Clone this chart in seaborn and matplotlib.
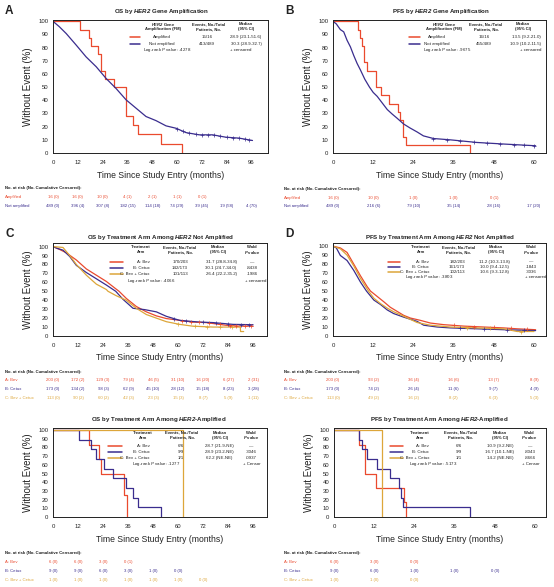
import numpy as np
import matplotlib
matplotlib.use("Agg")
import matplotlib.pyplot as plt
import matplotlib.transforms as mtrans
from matplotlib.lines import Line2D
import seaborn as sns

# ---------------------------------------------------------------- data
# Panel A: OS by HER2 gene amplification
A_amp_t = [0, 12.9, 17.4, 18.5, 22.0, 23.3, 25.1, 29.4, 35.4, 38.6, 41.0, 52.3, 62.4]
A_amp_s = [100, 93.75, 87.5, 81.25, 75.0, 62.5, 56.25, 50.0, 28.1, 21.1, 14.1, 7.0, 0]
A_not_t = [0, 3, 6.4, 11.3, 16, 20.9, 25.7, 30.5, 35.4, 40.2, 45, 49.8, 54.7, 59.5, 64.3, 70.7, 77.2, 83.6, 90, 96.5]
A_not_s = [100, 96, 90.7, 81.8, 73, 65.5, 56.6, 49, 40.3, 34, 27.7, 24.6, 20.6, 18.8, 15.5, 13.8, 13.8, 12, 11.3, 9.5]
A_not_cens = [60, 63, 66, 69, 72, 75, 78, 81, 84, 87, 90, 93, 95]

# Panel B: PFS by HER2 gene amplification
B_amp_t = [0, 7.5, 8.0, 8.8, 9.4, 10.2, 12.9, 14.4, 16.8, 19.4, 20.1, 21.0, 21.8, 40.9]
B_amp_s = [100, 93.75, 87.5, 81.25, 68.75, 62.5, 50, 43.75, 37.5, 31.25, 25, 12.5, 6.25, 0]
B_not_t = [0, 1, 2.2, 3.2, 4.2, 5.2, 6.2, 7.2, 8.2, 9.5, 10.9, 12, 13.2, 14.7, 16.2, 17.7, 19.1, 21.1, 23, 25.1, 27, 30, 35, 43, 51, 60.5]
B_not_s = [100, 98, 93.7, 92, 85.6, 80.6, 74, 68, 63, 56, 50, 46, 43, 38, 33, 29.5, 26.5, 22, 19, 16, 13, 11, 10, 8, 6.8, 5.5]
B_not_cens = [30, 34, 38, 42, 46, 50, 54, 57, 60]

# Panel C: OS by arm, HER2 not amplified
C_bev_t = [0, 3, 6.4, 11.2, 16, 20.8, 25.6, 30, 31.7, 35.2, 40, 44.8, 49.6, 54.4, 60.8, 67, 73.6, 83, 89.6, 96]
C_bev_s = [100, 97, 93, 85, 75, 68, 61, 53, 50, 42, 33, 27, 22.5, 19.5, 17.5, 15.6, 15, 12, 11, 11]
C_cet_t = [0, 2, 4.8, 8, 11.2, 16, 20.8, 25.6, 30.1, 33.6, 36, 38.4, 44, 49.6, 54.4, 60.8, 70, 76.8, 86.4, 96]
C_cet_s = [100, 98, 96, 89, 79, 71, 64, 57, 50, 41, 36, 31, 29.5, 27, 22, 17.5, 15.6, 15, 13, 12.6]
C_bc_t = [0, 4.8, 8, 11.2, 16, 20.8, 25.6, 26.4, 30.4, 35.2, 40, 44.8, 49.6, 54.4, 60.8, 67, 76.8, 86.4, 89.9, 90, 91.5]
C_bc_s = [100, 99, 90, 80, 68, 58, 52, 50, 45, 40, 31, 24, 20, 16, 13, 11, 10, 10, 10, 5, 5]
C_bev_cens = [62, 66, 70, 75, 80, 85, 88, 92, 95]
C_cet_cens = [58, 64, 72, 78, 84, 90, 94]
C_bc_cens = [60, 68, 74, 80, 86]

# Panel D: PFS by arm, HER2 not amplified
D_bev_t = [0, 2.2, 4.2, 6.2, 8.2, 10.2, 11.2, 13.2, 15.2, 17.1, 19.1, 21.1, 23.1, 26.1, 29.1, 33.1, 39.1, 45, 51, 55, 60.5]
D_bev_s = [100, 98, 93, 80, 67, 55, 50, 44, 38, 32, 27.5, 23, 20, 17.4, 14.4, 12.6, 11, 10, 9, 8, 7]
D_cet_t = [0, 1, 2.2, 4.2, 6.2, 8.2, 10, 12.2, 14.2, 16.2, 18.1, 21.1, 25.1, 27.1, 31.1, 35.1, 43, 51, 60.5]
D_cet_s = [100, 98, 89.6, 84, 73, 60, 50, 40, 35, 29, 25, 21, 16.3, 12, 10, 9, 8, 7, 6]
D_bc_t = [0, 2.2, 4.2, 6.2, 8.2, 10.6, 12.2, 14.2, 16.2, 18.1, 21.1, 25.1, 29.1, 35, 43, 51, 55, 60]
D_bc_s = [100, 97, 90, 78, 64, 50, 42, 36, 31, 27, 22, 15, 12, 10, 9, 8, 5, 5]
D_bev_cens = [36, 42, 48, 53, 58]
D_cet_cens = [38, 45, 52, 57]
D_bc_cens = [40, 47, 56]

# Panel E: OS by arm, HER2 amplified
E_bev_t = [0, 17.2, 21.9, 23.0, 34.2, 35.5]
E_bev_s = [100, 83.3, 66.7, 50, 25, 0]
E_cet_t = [0, 12.4, 18.3, 20.7, 24.6, 28.9, 35.0, 38.2, 40.5, 51.7]
E_cet_s = [100, 88.9, 77.8, 66.7, 55.6, 44.4, 33.3, 22.2, 11.1, 0]
E_bc_t = [0, 62.2]
E_bc_s = [100, 0]

# Panel F: PFS by arm, HER2 amplified
F_bev_t = [0, 7.6, 9.2, 12.5, 20.8, 21.6]
F_bev_s = [100, 83.3, 50, 33.3, 16.7, 0]
F_cet_t = [0, 7.6, 8.3, 9.9, 12.8, 16.6, 19.4, 20.0, 20.6, 40.5]
F_cet_s = [100, 88.9, 77.8, 66.7, 55.6, 44.4, 33.3, 22.2, 11.1, 0]
F_bc_t = [0, 14.3]
F_bc_s = [100, 0]

# numbers at risk
OS_ticks = [0, 12, 24, 36, 48, 60, 72, 84, 96]
PFS_ticks = [0, 12, 24, 36, 48, 60]
A_risk_amp = ["16 (0)", "16 (0)", "10 (0)", "4 (1)", "2 (1)", "1 (1)", "0 (1)"]
A_risk_not = ["489 (0)", "396 (4)", "307 (8)", "182 (15)", "114 (18)", "74 (29)", "39 (45)", "19 (58)", "4 (70)"]
B_risk_amp = ["16 (0)", "10 (0)", "1 (0)", "1 (0)", "0 (1)"]
B_risk_not = ["489 (0)", "216 (6)", "79 (10)", "35 (14)", "28 (16)", "17 (20)"]
C_risk_bev = ["203 (0)", "172 (2)", "129 (3)", "79 (4)", "46 (5)", "31 (10)", "16 (20)", "6 (27)", "2 (31)"]
C_risk_cet = ["173 (0)", "134 (2)", "98 (3)", "62 (9)", "45 (10)", "28 (12)", "15 (18)", "8 (23)", "3 (28)"]
C_risk_bc = ["113 (0)", "90 (2)", "60 (2)", "42 (3)", "23 (3)", "15 (3)", "8 (7)", "5 (9)", "1 (11)"]
D_risk_bev = ["203 (0)", "93 (2)", "36 (4)", "16 (6)", "13 (7)", "8 (9)"]
D_risk_cet = ["173 (0)", "74 (2)", "26 (4)", "11 (6)", "9 (7)", "4 (9)"]
D_risk_bc = ["113 (0)", "49 (2)", "16 (2)", "8 (2)", "6 (3)", "5 (3)"]
E_risk_bev = ["6 (0)", "6 (0)", "3 (0)", "0 (1)"]
E_risk_cet = ["9 (0)", "9 (0)", "6 (0)", "3 (0)", "1 (0)", "0 (0)"]
E_risk_bc = ["1 (0)", "1 (0)", "1 (0)", "1 (0)", "1 (0)", "1 (0)", "0 (0)"]
F_risk_bev = ["6 (0)", "3 (0)", "0 (0)"]
F_risk_cet = ["9 (0)", "6 (0)", "1 (0)", "1 (0)", "0 (0)"]
F_risk_bc = ["1 (0)", "1 (0)", "0 (0)"]

HER2_labels = ["Amplified", "Not amplified"]
ARM_labels = ["A: Bev", "B: Cetux", "C: Bev + Cetux"]
A_events = ["15/16", "413/489"]; A_median = ["28.9 (23.1-51.6)", "30.3 (28.9-32.7)"]; A_lr = ".4278"
B_events = ["16/16", "455/489"]; B_median = ["13.5 (9.2-21.0)", "10.9 (10.2-11.5)"]; B_lr = ".9675"
C_events = ["170/203", "142/173", "101/113"]; C_median = ["31.7 (28.8-34.8)", "30.1 (24.7-34.0)", "26.4 (22.2-35.2)"]
C_wald = ["\u2014", ".8438", ".1986"]; C_lr = ".4066"
D_events = ["182/203", "161/173", "102/113"]; D_median = ["11.2 (10.3-13.8)", "10.0 (9.4-12.5)", "10.6 (9.3-12.8)"]
D_wald = ["\u2014", ".1843", ".3036"]; D_lr = ".3803"
E_events = ["6/6", "9/9", "1/1"]; E_median = ["28.7 (21.9-NE)", "28.9 (23.2-NE)", "62.2 (NE-NE)"]
E_wald = ["\u2014", ".3046", ".0937"]; E_lr = ".1277"
F_events = ["6/6", "9/9", "1/1"]; F_median = ["10.9 (9.2-NE)", "16.7 (10.1-NE)", "14.2 (NE-NE)"]
F_wald = ["\u2014", ".8043", ".8666"]; F_lr = ".5173"

# ---------------------------------------------------------------- style
sns.set_theme(style="white")
plt.rcParams["font.family"] = ["Liberation Sans", "DejaVu Sans"]
plt.rcParams["mathtext.fontset"] = "custom"
plt.rcParams["mathtext.rm"] = "Liberation Sans"
plt.rcParams["mathtext.it"] = "Liberation Sans:italic"
plt.rcParams["mathtext.bf"] = "Liberation Sans:bold"
if "mathtext.bfit" in plt.rcParams:
    plt.rcParams["mathtext.bfit"] = "Liberation Sans:italic:bold"
    BI = "\\mathbfit"
else:
    BI = "\\mathit"

RED = "#EA4A2E"
NAVY = "#3A2D8E"
GOLD = "#DDA63A"
TXT = "#222222"

TICK = 4.3
XLAB = 6.2
YLAB = 7.0
TITLE = 4.4
PANEL = 8.5
LEG = 3.2
LEGH = 3.0
RISK = 3.1

W, H = 554, 587
fig = plt.figure(figsize=(W / 100, H / 100), dpi=100)
fig.patch.set_facecolor("white")


def ftext(x, y, s, **kw):
    kw.setdefault("va", "center")
    kw.setdefault("color", TXT)
    fig.text(x / W, 1 - y / H, s, **kw)


def fline(x0, x1, y, c):
    fig.add_artist(Line2D([x0 / W, x1 / W], [1 - y / H] * 2, color=c, lw=1.1,
                          transform=fig.transFigure))


def make_ax(box, xmax, ymax, xticks):
    l, t, r, b = box
    ax = fig.add_axes([l / W, 1 - b / H, (r - l) / W, (b - t) / H])
    ax.set_xlim(0, xmax)
    ax.set_ylim(0, ymax)
    ax.set_xticks(xticks)
    ax.set_yticks(range(0, 101, 10))
    ax.tick_params(axis="both", direction="out", length=2.2, width=0.6,
                   labelsize=TICK, colors=TXT, pad=1.2)
    ax.tick_params(axis="x", pad=2.6)
    for sp in ax.spines.values():
        sp.set_color("#222222")
        sp.set_linewidth(0.7)
    ax.set_xlabel("Time Since Study Entry (months)", fontsize=XLAB, color=TXT)
    ax.set_ylabel("Without Event (%)", fontsize=YLAB, color=TXT)
    ax.xaxis.set_label_coords(0.5, -17.5 / (b - t))
    ax.yaxis.set_label_coords(-20.0 / (r - l), 0.5)
    return ax


def curve(ax, t, s, c, step=True, z=2):
    kw = dict(drawstyle="steps-post") if step else {}
    sns.lineplot(x=t, y=s, ax=ax, color=c, lw=0.9, estimator=None, sort=False,
                 legend=False, zorder=z, **kw)


def censor(ax, t, s, ct, c):
    ys = np.interp(ct, t, s)
    sns.scatterplot(x=ct, y=ys, ax=ax, marker="+", s=5, color=c, linewidth=0.5,
                    legend=False, zorder=3)


def risk_table(ax, ticks, rows, labels, colors, y_head, y_rows, x_lab):
    tr = mtrans.blended_transform_factory(ax.transData, fig.transFigure)
    ftext(x_lab, y_head, "No. at risk (No. Cumulative Censored):", fontsize=RISK,
          fontweight="bold", ha="left")
    for vals, lab, c, y in zip(rows, labels, colors, y_rows):
        ftext(x_lab, y, lab, fontsize=RISK, ha="left", color=c)
        for tk, v in zip(ticks, vals):
            ax.text(tk, 1 - y / H, v, transform=tr, fontsize=RISK, ha="center",
                    va="center", color=c)


def legend_table(heads, head_x, head_y, labels, label_x, label_ha, cols, col_x,
                 row_y, colors, line_x, lr, lr_xy, cens, cens_xy):
    for hx, lines in zip(head_x, heads):
        for hy, ln in zip(head_y, lines):
            ftext(hx, hy, ln, fontsize=LEGH, fontweight="bold", ha="center")
    for i, (y, c) in enumerate(zip(row_y, colors)):
        fline(line_x[0], line_x[1], y, c)
        ftext(label_x, y, labels[i], fontsize=LEG, ha=label_ha)
        for cx, col in zip(col_x, cols):
            ftext(cx, y, col[i], fontsize=LEG, ha="center")
    ftext(lr_xy[0], lr_xy[1], "Log-rank $\\mathit{P}$ value: " + lr, fontsize=LEG, ha="left")
    ftext(cens_xy[0], cens_xy[1], cens, fontsize=LEG, ha="left")


HEAD_ARM = [["Treatment", "Arm"], ["Events, No./Total", "Patients, No."],
            ["Median", "(95% CI)"], ["Wald", "$" + BI + "{P}$ value"]]
HEAD_AMP = [["$" + BI + "{HER2}$ Gene", "Amplification (FM)"],
            ["Events, No./Total", "Patients, No."], ["Median", "(95% CI)"]]

# ---------------------------------------------------------------- Panel A
ax = make_ax((53, 20, 268, 153), 104, 101, OS_ticks)
curve(ax, A_amp_t, A_amp_s, RED)
curve(ax, A_not_t, A_not_s, NAVY, step=False)
censor(ax, A_not_t, A_not_s, A_not_cens, NAVY)
ftext(5, 11, "A", fontsize=PANEL, fontweight="bold", ha="left")
ftext(161, 12, "OS by $" + BI + "{HER2}$ Gene Amplification", fontsize=TITLE,
      fontweight="bold", ha="center")
legend_table(HEAD_AMP, [163, 209, 246], [24.3, 29.3], HER2_labels, 162, "center",
             [A_events, A_median], [207, 246], [37.3, 43.7], [RED, NAVY], (130, 140),
             A_lr, (143, 50), "+ censored", (230, 50))
risk_table(ax, OS_ticks, [A_risk_amp, A_risk_not], HER2_labels, [RED, NAVY],
           188, [197, 206], 5)

# ---------------------------------------------------------------- Panel B
ax = make_ax((333, 20, 546, 153), 63.6, 101, PFS_ticks)
curve(ax, B_amp_t, B_amp_s, RED)
curve(ax, B_not_t, B_not_s, NAVY, step=False)
censor(ax, B_not_t, B_not_s, B_not_cens, NAVY)
ftext(285, 11, "B", fontsize=PANEL, fontweight="bold", ha="left")
ftext(441, 12, "PFS by $" + BI + "{HER2}$ Gene Amplification", fontsize=TITLE,
      fontweight="bold", ha="center")
legend_table(HEAD_AMP, [444, 486, 523], [24.3, 29.3], HER2_labels, 437, "center",
             [B_events, B_median], [484, 526], [37.3, 43.7], [RED, NAVY], (409, 420),
             B_lr, (423, 50), "+ censored", (520, 50))
risk_table(ax, PFS_ticks, [B_risk_amp, B_risk_not], HER2_labels, [RED, NAVY],
           189, [198, 206], 284)

# ---------------------------------------------------------------- Panel C
ax = make_ax((53, 243, 267, 336), 102.7, 104, OS_ticks)
curve(ax, C_bev_t, C_bev_s, RED, step=False)
curve(ax, C_cet_t, C_cet_s, NAVY, step=False)
curve(ax, C_bc_t, C_bc_s, GOLD, step=False)
censor(ax, C_bev_t, C_bev_s, C_bev_cens, RED)
censor(ax, C_cet_t, C_cet_s, C_cet_cens, NAVY)
censor(ax, C_bc_t, C_bc_s, C_bc_cens, GOLD)
ftext(5, 234, "C", fontsize=PANEL, fontweight="bold", ha="left")
ftext(160, 238, "OS by Treatment Arm Among $" + BI + "{HER2}$ Not Amplified",
      fontsize=TITLE, fontweight="bold", ha="center")
legend_table(HEAD_ARM, [141, 180, 218, 252], [247.2, 252.0], ARM_labels, 150, "right",
             [C_events, C_median, C_wald], [180, 221, 252], [262.3, 268.3, 274.3],
             [RED, NAVY, GOLD], (110, 123), C_lr, (127, 280.7), "+ censored", (245, 280.7))
risk_table(ax, OS_ticks, [C_risk_bev, C_risk_cet, C_risk_bc], ARM_labels,
           [RED, NAVY, GOLD], 372, [380, 389, 398], 5)

# ---------------------------------------------------------------- Panel D
ax = make_ax((333, 243, 546, 336), 63.6, 103.5, PFS_ticks)
curve(ax, D_bev_t, D_bev_s, RED, step=False)
curve(ax, D_cet_t, D_cet_s, NAVY, step=False)
curve(ax, D_bc_t, D_bc_s, GOLD, step=False)
censor(ax, D_bev_t, D_bev_s, D_bev_cens, RED)
censor(ax, D_cet_t, D_cet_s, D_cet_cens, NAVY)
censor(ax, D_bc_t, D_bc_s, D_bc_cens, GOLD)
ftext(285, 234, "D", fontsize=PANEL, fontweight="bold", ha="left")
ftext(440, 237, "PFS by Treatment Arm Among $" + BI + "{HER2}$ Not Amplified",
      fontsize=TITLE, fontweight="bold", ha="center")
legend_table(HEAD_ARM, [421, 459, 496, 531], [247.2, 252.0], ARM_labels, 429, "right",
             [D_events, D_median, D_wald], [457, 494, 531], [261.7, 266.7, 271.7],
             [RED, NAVY, GOLD], (388, 400), D_lr, (405, 276.7), "+ censored", (525, 276.7))
risk_table(ax, PFS_ticks, [D_risk_bev, D_risk_cet, D_risk_bc], ARM_labels,
           [RED, NAVY, GOLD], 372, [380, 389, 398], 284)

# ---------------------------------------------------------------- Panel E
ax = make_ax((53, 428, 267, 517), 102.5, 102.3, OS_ticks)
curve(ax, E_bev_t, E_bev_s, RED)
curve(ax, E_cet_t, E_cet_s, NAVY)
curve(ax, E_bc_t, E_bc_s, GOLD)
ftext(159, 420, "OS by Treatment Arm Among $" + BI + "{HER2}$-Amplified",
      fontsize=TITLE, fontweight="bold", ha="center")
legend_table(HEAD_ARM, [143, 182, 220, 251], [432.8, 437.8], ARM_labels, 150, "right",
             [E_events, E_median, E_wald], [181, 219, 251], [446, 452.3, 458.3],
             [RED, NAVY, GOLD], (108, 122), E_lr, (132, 464.3), "+ Censor", (243, 464.3))
risk_table(ax, OS_ticks, [E_risk_bev, E_risk_cet, E_risk_bc], ARM_labels,
           [RED, NAVY, GOLD], 553, [562, 571, 580], 5)

# ---------------------------------------------------------------- Panel F
ax = make_ax((334, 428, 546, 517), 63.3, 102.3, PFS_ticks)
curve(ax, F_bev_t, F_bev_s, RED)
curve(ax, F_cet_t, F_cet_s, NAVY)
curve(ax, F_bc_t, F_bc_s, GOLD)
ftext(439, 420, "PFS by Treatment Arm Among $" + BI + "{HER2}$-Amplified",
      fontsize=TITLE, fontweight="bold", ha="center")
legend_table(HEAD_ARM, [420, 461, 500, 529], [432.8, 437.8], ARM_labels, 429, "right",
             [F_events, F_median, F_wald], [459, 500, 530], [446, 452.3, 458.3],
             [RED, NAVY, GOLD], (390, 403), F_lr, (409, 464.3), "+ Censor", (522, 464.3))
risk_table(ax, PFS_ticks, [F_risk_bev, F_risk_cet, F_risk_bc], ARM_labels,
           [RED, NAVY, GOLD], 553, [562, 571, 580], 284)

fig.savefig("out.png", dpi=100, facecolor="white")
